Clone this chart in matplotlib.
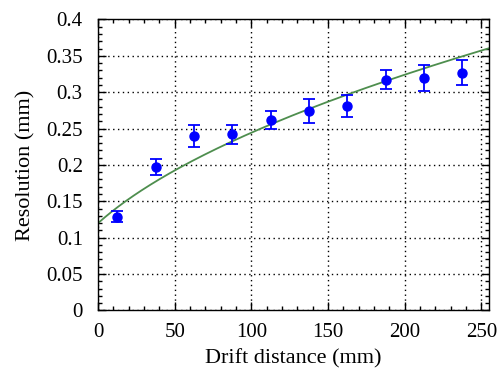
import numpy as np
import matplotlib
matplotlib.use("Agg")
import matplotlib.pyplot as plt
from matplotlib.ticker import MultipleLocator

plt.rcParams['font.family'] = ['Liberation Serif', 'DejaVu Serif']

# measured points
drift = [12.5, 37.5, 62.5, 87.5, 112.5, 137.5, 162.5, 187.5, 212.5, 237.5]
resolution = [0.129, 0.197, 0.240, 0.242, 0.262, 0.274, 0.281, 0.317, 0.320, 0.327]
res_err = [0.007, 0.011, 0.015, 0.013, 0.012, 0.017, 0.015, 0.013, 0.018, 0.017]
ytick_labels = ['0', '0.05', '0.1', '0.15', '0.2', '0.25', '0.3', '0.35', '0.4']

# fit: sigma = sqrt(s0^2 + k*x)
s0 = 0.12
k = 0.000453

fig = plt.figure(figsize=(4.98, 3.74), dpi=100)
ax = fig.add_axes([0.197, 0.17, 0.785, 0.778])

xfit = np.linspace(0, 255, 300)
ax.plot(xfit, np.sqrt(s0**2 + k*xfit), color='#4e8e4e', lw=1.3, zorder=2)

ax.errorbar(drift, resolution, yerr=res_err, fmt='o', color='blue', ms=6.5,
            capsize=4.5, elinewidth=1.3, capthick=1.3, zorder=3)

ax.set_xlim(0, 255)
ax.set_ylim(0, 0.4)
ax.xaxis.set_major_locator(MultipleLocator(50))
ax.xaxis.set_minor_locator(MultipleLocator(10))
ax.set_yticks(np.arange(0, 0.401, 0.05))
ax.set_yticklabels(ytick_labels)
ax.yaxis.set_minor_locator(MultipleLocator(0.01))

ax.tick_params(which='both', direction='in', top=True, right=True, labelsize=15)
ax.tick_params(which='major', length=6, width=1)
ax.tick_params(which='minor', length=3, width=1)
ax.tick_params(axis='x', pad=9)
ax.tick_params(axis='y', pad=11)
ax.grid(True, which='major', color='black', linestyle=(0, (1, 2.5)), lw=1)

for s in ax.spines.values():
    s.set_linewidth(1)

ax.set_xlabel('Drift distance (mm)', fontsize=16, labelpad=5)
ax.set_ylabel('Resolution (mm)', fontsize=16, labelpad=8)

fig.savefig('out.png', dpi=100)
